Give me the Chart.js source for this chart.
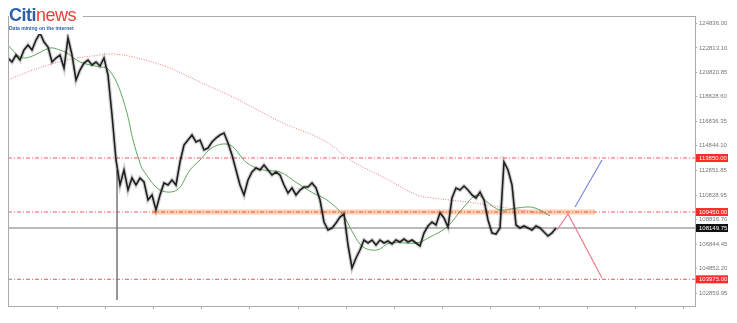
<!DOCTYPE html>
<html>
<head>
<meta charset="utf-8">
<script src="https://cdn.jsdelivr.net/npm/chart.js@4.4.1/dist/chart.umd.min.js"></script>
<style>
  html,body{margin:0;padding:0;background:#fff;}
  #wrap{position:relative;width:737px;height:323px;}
  #logo{position:absolute;left:9px;top:6px;width:74px;height:28px;background:#fff;font-family:"Liberation Sans",Arial,sans-serif;}
  #logo .t{font-size:18px;font-weight:bold;line-height:18px;letter-spacing:-0.5px;}
  #logo .c{color:#2c5fa8;}
  #logo .n{color:#e8423a;font-weight:normal;}
  #logo .s{font-size:5px;color:#2c5fa8;line-height:6px;margin-top:1px;white-space:nowrap;font-weight:bold;}
</style>
</head>
<body>
<div id="wrap">
<canvas id="c" width="737" height="323"></canvas>
<div id="logo"><div class="t"><span class="c">Citi</span><span class="n">news</span></div><div class="s">Data mining on the internet</div></div>
</div>
<script>
// price closes, one per bar (bar index = position in array)
const closes = [121987,121662,122232,121825,122638,123045,122638,123452,124022,123290,
122883,121662,121987,122232,121173,123615,122232,120197,121011,121580,
121825,121418,121662,121336,121987,120604,117348,113686,111651,112872,
111244,112221,111651,112221,111895,110430,110837,109616,110837,111814,
111651,112058,111651,113523,114906,115313,115720,115151,115313,114499,
114662,115151,115476,115720,115883,115069,114093,112872,111651,110837,
112058,112709,113034,112872,113279,112872,112465,112709,112465,111651,
111000,111407,110837,111244,111488,111488,111814,111407,110430,108639,
107988,108151,108558,109046,109291,106767,104895,105709,106360,107174,
106930,107174,106767,107174,106930,107093,106849,107174,107012,107256,
107012,107174,106930,106686,107744,108314,108639,108395,109372,108965,
108232,110593,111407,111244,111569,111244,110837,110593,111081,110430,
108802,107744,107663,108151,113523,112872,111651,108395,108151,108314,
108151,107988,108314,108151,107826,107500,107744,108151];

// fast moving average (green)
const maFastX = [0,3,5.5,10.5,13,14.75,18,23,24.75,27.25,29.75,31.25,33,33.75,38,42.25,45.5,48,51.25,55.5,59.75,63.75,68,72.25,76.25,79.75,83.75,86.25,88.75,92.25,95.5,102.25,105.5,109.75,113.75,117.25,119.75,123,127.25,130.5,133,135.5];
const maFastY = [123045,122069,122069,122801,122638,122394,121662,121255,121173,119953,117511,115313,113441,112872,111244,111244,112872,113686,114744,114906,113441,112872,112709,111814,111000,110430,109209,107744,106605,106360,106930,106930,107419,108232,109779,110837,110267,109616,109779,109860,109616,109128];

// slow moving average (red dotted)
const maSlowX = [0,6.25,14.75,23,26.25,31.25,39.75,48,56.25,60.5,68.75,77.25,81.25,85.5,93.75,102.25,106.25,114.75,123,131.25,135.5];
const maSlowY = [120197,121011,121825,122232,122313,122069,121255,120034,118813,118081,116697,115558,114800,113686,112302,110837,110593,110267,109860,109453,109209];

// right axis tick labels
const yTicks = [124836.00,122813.10,120820.85,118828.60,116836.35,114844.10,112851.85,110828.95,108836.70,106844.45,104852.20,102859.95];

// horizontal levels
const levelHigh = 113850.00;
const levelMid = 109450.00;
const levelLow = 103975.00;
const lastPrice = 108149.75;

// support band (bar index range)
const bandX = [36, 146.75];
// projections
const projUpX = [141.75, 148.5];
const projUpY = [109860, 113686];
const projDownX = [137.25, 140, 148.5];
const projDownY = [107988, 109291, 104082];
// vertical marker line
const vlineX = 27.25;
const vlineY = [112872, 102291];

const xMax = 171.75;
const yMin = 101803, yMax = 125406;

const pts = (xs, ys) => xs.map((x, i) => ({x: x, y: ys[i]}));
const hline = (v) => [{x: 0, y: v}, {x: xMax, y: v}];
const pricePts = closes.map((v,i)=>({x:i,y:v}));

const datasets = [
  {label:'price', data: pricePts, borderColor:'#1e1e1e', borderWidth:1.6, order:1},
  {label:'priceShade', data: pricePts, borderColor:'rgba(0,0,0,0.18)', borderWidth:4, order:2},
  {label:'fast', data: pts(maFastX, maFastY), borderColor:'rgba(70,150,70,0.85)', borderWidth:1, tension:0.35, order:3},
  {label:'slow', data: pts(maSlowX, maSlowY), borderColor:'rgba(235,110,110,0.9)', borderWidth:1, borderDash:[1,1.5], tension:0.4, order:3},
  {label:'high', data: hline(levelHigh), borderColor:'rgba(240,60,60,0.85)', borderWidth:1, borderDash:[4,2,1,2], order:4},
  {label:'mid', data: hline(levelMid), borderColor:'rgba(240,60,60,0.85)', borderWidth:1, borderDash:[4,2,1,2], order:4},
  {label:'low', data: hline(levelLow), borderColor:'rgba(240,60,60,0.85)', borderWidth:1, borderDash:[4,2,1,2], order:4},
  {label:'last', data: hline(lastPrice), borderColor:'#777', borderWidth:1, order:5},
  {label:'band', data: [{x:bandX[0],y:levelMid},{x:bandX[1],y:levelMid}], borderColor:'rgba(255,175,120,0.6)', borderWidth:5, borderCapStyle:'butt', order:6},
  {label:'up', data: pts(projUpX, projUpY), borderColor:'#7f86e0', borderWidth:1.2, order:1},
  {label:'down', data: pts(projDownX, projDownY), borderColor:'#ec7e8e', borderWidth:1.2, order:1},
  {label:'vline', data: [{x:vlineX,y:vlineY[0]},{x:vlineX,y:vlineY[1]}], borderColor:'#888', borderWidth:1, order:7}
];

const tags = [
  {v: levelHigh, bg:'#ff2a2a'},
  {v: levelMid, bg:'#ff2a2a'},
  {v: levelLow, bg:'#ff2a2a'},
  {v: lastPrice, bg:'#111'}
];

const framePlugin = {
  id:'frame',
  afterDraw(chart){
    const {ctx, chartArea:a, scales:{y}} = chart;
    ctx.save();
    ctx.strokeStyle = '#aaa';
    ctx.lineWidth = 1;
    ctx.strokeRect(Math.round(a.left)+0.5, Math.round(a.top)+0.5, Math.round(a.right-a.left), Math.round(a.bottom-a.top));
    ctx.font = '6px "Liberation Sans", Arial, sans-serif';
    ctx.textBaseline = 'middle';
    tags.forEach(t=>{
      const py = y.getPixelForValue(t.v);
      ctx.fillStyle = t.bg;
      ctx.fillRect(a.right+1, py-4, 32, 8);
      ctx.fillStyle = '#fff';
      ctx.fillText(t.v.toFixed(2), a.right+4, py+0.5);
    });
    ctx.restore();
  }
};

new Chart(document.getElementById('c'), {
  type:'line',
  data:{datasets},
  plugins:[framePlugin],
  options:{
    responsive:false,
    animation:false,
    layout:{padding:{left:8, top:16, right:0, bottom:0}},
    elements:{point:{radius:0}, line:{tension:0, fill:false}},
    plugins:{legend:{display:false}, tooltip:{enabled:false}},
    scales:{
      x:{
        type:'linear', min:0, max:xMax,
        border:{display:false},
        grid:{drawOnChartArea:false, tickLength:3, color:'#aaa'},
        ticks:{display:true, color:'rgba(0,0,0,0)', font:{size:4}, padding:0},
        afterBuildTicks(s){ const t=[]; for(let v=12.25; v<xMax; v+=12.05) t.push({value:v}); s.ticks=t; },
        afterFit(s){ s.height = 17; }
      },
      y:{
        type:'linear', position:'right', min:yMin, max:yMax,
        border:{display:false},
        grid:{drawOnChartArea:false, tickLength:2, color:'#aaa'},
        ticks:{color:'#777', font:{size:6, family:'"Liberation Sans", Arial, sans-serif'}, padding:2,
          callback:(v)=>Number(v).toFixed(2)},
        afterBuildTicks(s){ s.ticks = yTicks.map(v=>({value:v})); },
        afterFit(s){ s.width = 42; }
      }
    }
  }
});
</script>
</body>
</html>
